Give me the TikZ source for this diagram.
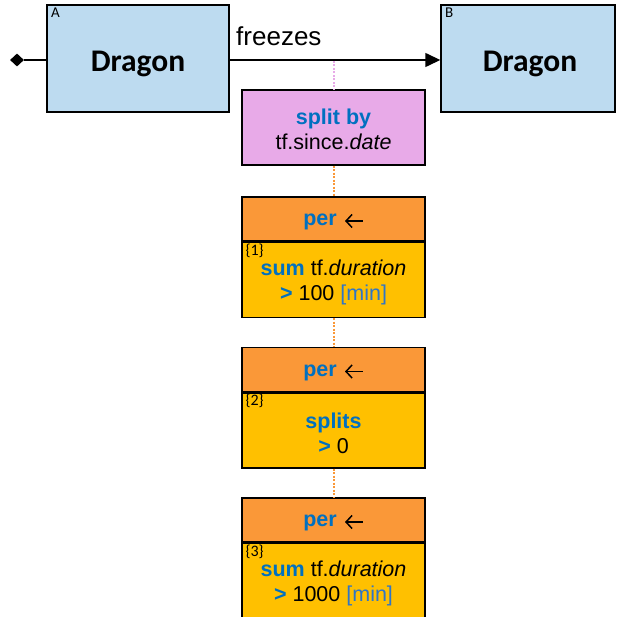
\documentclass[tikz,border=0pt]{standalone}
\usepackage{fontspec}
\setmainfont{Liberation Sans}
\newfontfamily\calfont{Carlito}
\usetikzlibrary{arrows.meta,shapes.geometric}
\definecolor{entblue}{RGB}{189,219,240}
\definecolor{splitpink}{RGB}{232,170,232}
\definecolor{perorange}{RGB}{250,152,56}
\definecolor{bodygold}{RGB}{255,192,0}
\definecolor{kwblue}{RGB}{0,112,192}
\definecolor{unitblue}{RGB}{46,117,200}
\tikzset{
  entity/.style={draw=black, line width=1.4pt, fill=entblue, minimum width=182pt, minimum height=107pt, inner sep=0pt},
  splitbox/.style={draw=black, line width=1.4pt, fill=splitpink, minimum width=183pt, minimum height=75pt, inner sep=0pt},
  perhead/.style={draw=black, line width=1.4pt, fill=perorange, minimum width=183pt, minimum height=44pt, inner sep=0pt},
  perbody/.style={draw=black, line width=1.4pt, fill=bodygold, minimum width=183pt, minimum height=75pt, inner sep=0pt},
  boxtext/.style={inner sep=0pt, align=center, font=\fontsize{21.5}{25}\selectfont},
  tag/.style={inner sep=0pt, anchor=north west, font=\calfont\fontsize{15}{15}\selectfont},
  numtag/.style={inner sep=0pt, anchor=north west, font=\calfont\fontsize{16}{16}\selectfont},
  bigname/.style={inner sep=0pt, font=\calfont\bfseries\fontsize{31.5}{34}\selectfont},
  pinkdot/.style={draw=splitpink, line width=2pt, dash pattern=on 2pt off 1.5pt},
  orangedot/.style={draw=perorange, line width=2pt, dash pattern=on 2pt off 1.5pt},
  perarrow/.style={line width=1.5pt, {Straight Barb[length=6pt,width=13pt,line width=1.5pt]}-},
}
\newcommand{\kwd}[1]{\textcolor{kwblue}{\textbf{#1}}}
\newcommand{\unt}[1]{\textcolor{unitblue}{#1}}
\begin{document}
\begin{tikzpicture}[x=1pt,y=1pt]
\useasboundingbox (0,0) rectangle (616,-617);
% entities
\node[entity] (A) at (138,-58.5) {};
\node[bigname] (An) at (138,-64) {Dragon};
\node[tag] (Atag) at (51,-8) {A};
\node[entity, minimum width=174pt] (B) at (528,-58.5) {};
\node[bigname] (Bn) at (530,-64) {Dragon};
\node[tag] (Btag) at (445,-8) {B};
% diamond end
\node[diamond, fill=black, inner sep=0pt, minimum width=14pt, minimum height=13pt] (dia) at (17,-60) {};
\draw[line width=1.4pt] (dia.east) -- (A.west |- dia.east);
% relation arrow
\coordinate (ra) at (A.east |- 0,-60);
\coordinate (rb) at (B.west |- 0,-60);
\draw[line width=1.4pt, -{Triangle[length=15pt,width=14pt]}] (ra) -- (rb);
\node[anchor=base west, inner sep=0pt, font=\fontsize{26}{28}\selectfont] (lbl) at (236,-46) {freezes};
\coordinate (mid) at (333.5,-61);
% split box
\node[splitbox] (S) at (333.5,-127.5) {};
\node[boxtext] (St) at (333.5,-129.5) {\kwd{split by}\\tf.since.\textit{date}};
\draw[pinkdot] (mid) -- (S.north);
% per box 1
\node[perhead] (H1) at (333.5,-219) {};
\node[boxtext, anchor=east] (H1t) at (337,-222) {\kwd{per}};
\draw[perarrow] ([xshift=8pt,yshift=1pt]H1t.east) -- ++(18pt,0);
\node[perbody, anchor=north] (P1) at (H1.south) {};
\node[boxtext] (P1t) at ([yshift=-3pt]P1.center) {\kwd{sum} tf.\textit{duration}\\\kwd{>} 100 \unt{[min]}};
\node[numtag] (T1) at ([shift={(4pt,-2pt)}]P1.north west) {\{1\}};
% per box 2
\node[perhead] (H2) at (333.5,-369.5) {};
\node[boxtext, anchor=east] (H2t) at (337,-372.5) {\kwd{per}};
\draw[perarrow] ([xshift=8pt,yshift=1pt]H2t.east) -- ++(18pt,0);
\node[perbody, anchor=north] (P2) at (H2.south) {};
\node[boxtext] (P2t) at ([yshift=-3pt]P2.center) {\kwd{splits}\\\kwd{>} 0};
\node[numtag] (T2) at ([shift={(4pt,-2pt)}]P2.north west) {\{2\}};
% per box 3
\node[perhead] (H3) at (333.5,-520) {};
\node[boxtext, anchor=east] (H3t) at (337,-523) {\kwd{per}};
\draw[perarrow] ([xshift=8pt,yshift=1pt]H3t.east) -- ++(18pt,0);
\node[perbody, anchor=north] (P3) at (H3.south) {};
\node[boxtext] (P3t) at ([yshift=-3pt]P3.center) {\kwd{sum} tf.\textit{duration}\\\kwd{>} 1000 \unt{[min]}};
\node[numtag] (T3) at ([shift={(4pt,-2pt)}]P3.north west) {\{3\}};
% dotted connectors
\draw[orangedot] (S.south) -- (H1.north);
\draw[orangedot] (P1.south) -- (H2.north);
\draw[orangedot] (P2.south) -- (H3.north);
\end{tikzpicture}
\end{document}
